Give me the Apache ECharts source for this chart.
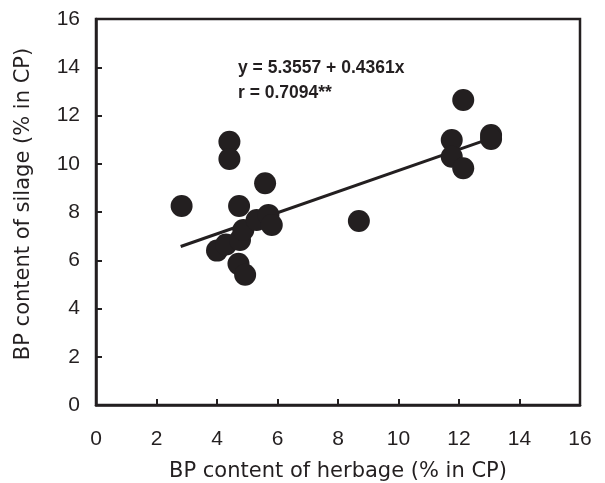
<!DOCTYPE html>
<html>
<head>
<meta charset="utf-8">
<script src="https://cdn.jsdelivr.net/npm/echarts@6/dist/echarts.min.js"></script>
<style>html,body{margin:0;padding:0;background:#fff;}#c{width:605px;height:483px;}</style>
</head>
<body>
<div id="c"></div>
<script>
const herbage = [2.83, 4.41, 4.41, 5.59, 4.73, 4.00, 4.30, 4.76, 4.87, 5.31, 5.70, 5.81, 4.71, 4.93, 8.69, 11.76, 11.76, 12.14, 12.14, 13.06, 13.06];
const silage  = [8.25, 10.91, 10.20, 9.19, 8.25, 6.40, 6.65, 6.84, 7.25, 7.67, 7.88, 7.46, 5.85, 5.40, 7.63, 10.98, 10.29, 9.81, 12.64, 11.19, 11.03];
const fitX = [2.8, 13.0];
const fitY = [6.57, 11.03];
const tickLabels = ['0','2','4','6','8','10','12','14','16'];
const equation = 'y = 5.3557 + 0.4361x';
const corr = 'r = 0.7094**';
const xTitle = 'BP content of herbage (% in CP)';
const yTitle = 'BP content of silage (% in CP)';

const ink = '#231f20';
const chart = echarts.init(document.getElementById('c'));
const axisCommon = {
  type: 'value', min: 0, max: 16, interval: 2,
  axisLine: {show: true, lineStyle: {color: ink, width: 2.5}},
  axisTick: {show: true, inside: true, length: 6, lineStyle: {color: ink, width: 2}},
  splitLine: {show: false},
  axisLabel: {color: ink, fontFamily: 'Liberation Sans', fontSize: 21, formatter: v => tickLabels[v/2]},
  nameLocation: 'middle',
  nameTextStyle: {color: ink, fontFamily: 'DejaVu Sans', fontSize: 21}
};
chart.setOption({
  animation: false,
  grid: {left: 96, right: 25, top: 19, bottom: 78, show: true, borderColor: ink, borderWidth: 2.5,
         containLabel: false, outerBoundsMode: 'none'},
  xAxis: Object.assign({}, axisCommon, {
    name: xTitle, nameGap: 56,
    axisLabel: Object.assign({}, axisCommon.axisLabel, {margin: 24})
  }),
  yAxis: Object.assign({}, axisCommon, {
    name: yTitle, nameGap: 62,
    axisLabel: Object.assign({}, axisCommon.axisLabel, {margin: 16}),
    nameTextStyle: Object.assign({}, axisCommon.nameTextStyle, {padding: [0,0,0,16]})
  }),
  graphic: [
    {type: 'text', left: 238, top: 59, style: {text: equation, fill: ink, font: 'bold 17.5px "Liberation Sans"'}},
    {type: 'text', left: 238, top: 84, style: {text: corr, fill: ink, font: 'bold 17.5px "Liberation Sans"'}}
  ],
  series: [
    {type: 'line', data: fitX.map((x, i) => [x, fitY[i]]), symbol: 'none',
     lineStyle: {color: ink, width: 3}, z: 3},
    {type: 'scatter', data: herbage.map((x, i) => [x, silage[i]]), symbol: 'circle', symbolSize: 22,
     itemStyle: {color: ink, opacity: 1}, z: 4}
  ]
});
</script>
</body>
</html>
